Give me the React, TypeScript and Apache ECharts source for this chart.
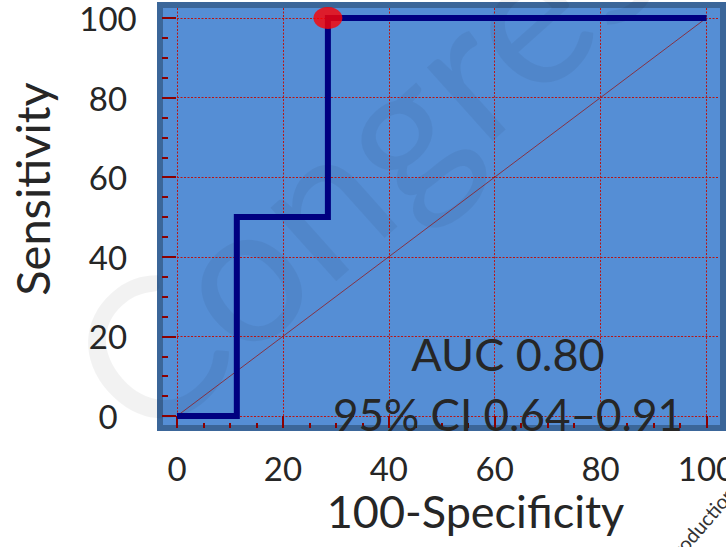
import React, { useEffect, useRef } from "react";
import * as echarts from "echarts";

// ---- data ----
const xMajorTicks = [0, 20, 40, 60, 80, 100];
const xMinorTicks = [5, 10, 15, 25, 30, 35, 45, 50, 55, 65, 70, 75, 85, 90, 95];
const yMajorTicks = [0, 20, 40, 60, 80, 100];
const yMinorTicks = [5, 10, 15, 25, 30, 35, 45, 50, 55, 65, 70, 75, 85, 90, 95];

const rocFpr = [0, 11.3, 11.3, 28.5, 28.5, 100];
const rocTpr = [0, 0, 50, 50, 100, 100];
const refFpr = [0, 100];
const refTpr = [0, 100];
const cutoffPoint = [28.5, 100];

const aucLabel = "AUC 0.80";
const ciLabel = "95% CI 0.64\u20130.91";
const xTitle = "100-Specificity";
const yTitle = "Sensitivity";
const watermarkMain = "Congress";
const watermarkSmall = "reproduction";

const FONT = "Lato, 'Noto Sans', sans-serif";
const TEXT = "#262626";
const TICK = "#8B0000";
const GRIDLINE = "#B81515";

export default function App() {
  const ref = useRef<HTMLDivElement>(null);
  useEffect(() => {
    if (!ref.current) return;
    const chart = echarts.init(ref.current, null, { renderer: "svg" });
    const xMin = -2.64, xMax = 102.36, yMin = -2.26, yMax = 102.5;
    const axisCommon = (isX: boolean) => ({
      type: "value" as const,
      min: isX ? xMin : yMin,
      max: isX ? xMax : yMax,
      axisLine: { show: false, onZero: false },
    });
    chart.setOption({
      animation: false,
      backgroundColor: "#ffffff",
      grid: { left: 163, top: 8, width: 556, height: 417, containLabel: false, outerBoundsMode: "none" },
      xAxis: [
        {
          ...axisCommon(true),
          position: "bottom",
          offset: 3,
          axisTick: { show: true, inside: true, length: 12, customValues: xMajorTicks, lineStyle: { color: TICK, width: 2 } },
          axisLabel: { customValues: xMajorTicks, fontSize: 33, fontFamily: FONT, color: TEXT, margin: 23 },
          splitLine: { show: true, lineStyle: { color: GRIDLINE, width: 1, type: [2, 1.5] } },
          name: xTitle,
          nameLocation: "middle",
          nameGap: 36,
          nameTextStyle: { fontSize: 45, fontFamily: FONT, color: TEXT, padding: [0, 0, 0, 69] },
        },
        {
          ...axisCommon(true),
          position: "bottom",
          offset: 3,
          axisTick: { show: true, inside: true, length: 5, customValues: xMinorTicks, lineStyle: { color: TICK, width: 2 } },
          axisLabel: { show: false },
          splitLine: { show: false },
        },
      ],
      yAxis: [
        {
          ...axisCommon(false),
          position: "left",
          offset: 1,
          axisTick: { show: true, inside: true, length: 14, customValues: yMajorTicks, lineStyle: { color: TICK, width: 2 } },
          axisLabel: { customValues: yMajorTicks, fontSize: 33, fontFamily: FONT, color: TEXT, margin: 54, align: "center" },
          splitLine: { show: true, lineStyle: { color: GRIDLINE, width: 1, type: [2, 1.5] } },
          name: yTitle,
          nameLocation: "middle",
          nameGap: 107,
          nameRotate: 90,
          nameTextStyle: { fontSize: 47, fontFamily: FONT, color: TEXT, padding: [0, 0, 0, 55] },
        },
        {
          ...axisCommon(false),
          position: "left",
          offset: 1,
          axisTick: { show: true, inside: true, length: 6, customValues: yMinorTicks, lineStyle: { color: TICK, width: 2 } },
          axisLabel: { show: false },
          splitLine: { show: false },
        },
      ],
      graphic: {
        elements: [
          {
            type: "rect",
            z: -10,
            silent: true,
            shape: { x: 160, y: 5, width: 563, height: 423 },
            style: { fill: "#558ED5", stroke: "#3B6699", lineWidth: 6 },
          },
          {
            type: "text",
            z: -5,
            silent: true,
            x: 98,
            y: 394,
            rotation: 0.73,
            style: {
              text: watermarkMain,
              font: `195px ${FONT}`,
              fill: "rgba(0,0,0,0.05)",
              align: "left",
              verticalAlign: "middle",
            },
          },
          {
            type: "text",
            z: 50,
            silent: true,
            x: 694,
            y: 532,
            rotation: 0.86,
            style: {
              text: watermarkSmall,
              font: `20px ${FONT}`,
              fill: "#333333",
              align: "center",
              verticalAlign: "middle",
            },
          },
          {
            type: "text",
            z: 50,
            x: 508,
            y: 354,
            style: {
              text: aucLabel,
              font: `45px ${FONT}`,
              fill: TEXT,
              align: "center",
              verticalAlign: "middle",
            },
          },
          {
            type: "text",
            z: 50,
            x: 508,
            y: 414,
            style: {
              text: ciLabel,
              font: `44px ${FONT}`,
              fill: TEXT,
              align: "center",
              verticalAlign: "middle",
            },
          },
        ],
      },
      series: [
        {
          type: "line",
          xAxisIndex: 0,
          yAxisIndex: 0,
          data: refFpr.map((x, i) => [x, refTpr[i]]),
          showSymbol: false,
          lineStyle: { color: "rgba(150,20,20,0.75)", width: 1 },
          z: 2,
        },
        {
          type: "line",
          xAxisIndex: 0,
          yAxisIndex: 0,
          data: rocFpr.map((x, i) => [x, rocTpr[i]]),
          showSymbol: false,
          lineStyle: { color: "#000080", width: 6, cap: "butt", join: "miter" },
          z: 3,
        },
        {
          type: "scatter",
          xAxisIndex: 0,
          yAxisIndex: 0,
          data: [cutoffPoint],
          symbol: "circle",
          symbolSize: [29, 22],
          itemStyle: { color: "#FF0000" },
          z: 4,
        },
      ],
    });
    return () => chart.dispose();
  }, []);
  return (
    <div
      ref={ref}
      style={{ position: "absolute", left: 0, top: 0, width: 726, height: 547 }}
    />
  );
}
